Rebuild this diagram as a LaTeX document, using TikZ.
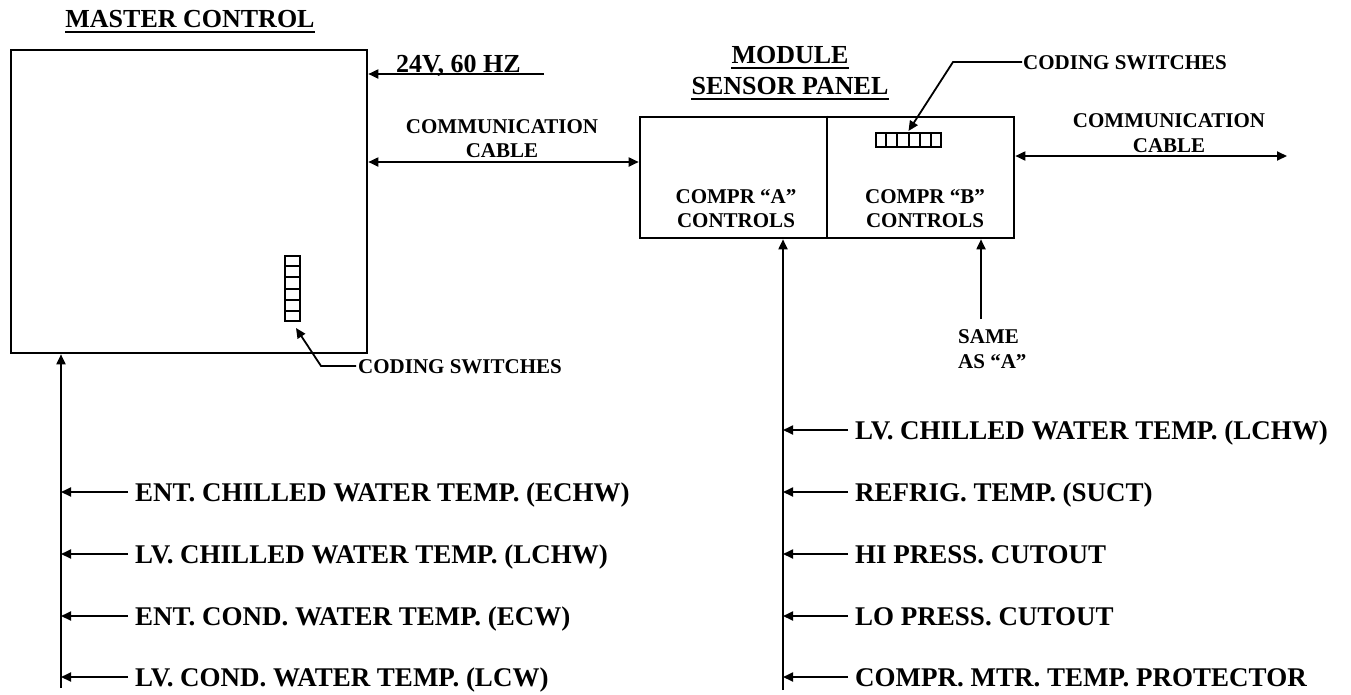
\documentclass[tikz,border=0pt]{standalone}
\usepackage{fontspec}
\setmainfont{Liberation Serif}
\usetikzlibrary{arrows.meta,calc}
\begin{document}
\begin{tikzpicture}[x=1pt,y=-1pt,
  box/.style={draw,line width=2.6pt,inner sep=0pt},
  swbox/.style={draw,line width=2pt,inner sep=0pt},
  wire/.style={line width=1.8pt},
  arr/.style={wire,-{Triangle[length=10pt,width=9pt]}},
  dbl/.style={wire,{Triangle[length=10pt,width=9pt]}-{Triangle[length=10pt,width=9pt]}},
  uline/.style={line width=2pt},
  head/.style={font=\fontsize{26}{30}\selectfont\bfseries,inner sep=0pt},
  small/.style={font=\fontsize{21}{24}\selectfont\bfseries,inner sep=0pt},
  big/.style={font=\fontsize{27}{30}\selectfont\bfseries,inner sep=0pt,anchor=base west}
]
\useasboundingbox (0,0) rectangle (1351,694);

% boxes
\node[box,minimum width=356pt,minimum height=303pt] (master) at (189,201.5) {};
\node[box,minimum width=374pt,minimum height=121pt] (module) at (827,177.5) {};
\draw[line width=2.6pt] (module.north) -- (module.south);

% titles
\node[head,anchor=base] (mct) at (190,27) {MASTER CONTROL};
\draw[uline] ([yshift=-5pt]mct.base west) -- ([yshift=-5pt]mct.base east);
\node[head,anchor=base] (mod1) at (790,63) {MODULE};
\draw[uline] ([yshift=-5pt]mod1.base west) -- ([yshift=-5pt]mod1.base east);
\node[head,anchor=base] (mod2) at (790,94) {SENSOR PANEL};
\draw[uline] ([yshift=-5pt]mod2.base west) -- ([yshift=-5pt]mod2.base east);

% power
\node[head,anchor=base west] (pw) at (396,72) {24V, 60 HZ};
\coordinate (pwe) at (544,74);
\draw[arr] (pwe) -- (pwe -| master.east);

% communication cable left
\node[small,anchor=base] (cc1a) at (502,133) {COMMUNICATION};
\node[small,anchor=base] (cc1b) at (502,157) {CABLE};
\coordinate (c1) at (0,162);
\draw[dbl] (c1 -| master.east) -- (c1 -| module.west);

% communication cable right
\node[small,anchor=base] (cc2a) at (1169,127) {COMMUNICATION};
\node[small,anchor=base] (cc2b) at (1169,152) {CABLE};
\coordinate (c2) at (1287,156);
\draw[dbl] (c2 -| module.east) -- (c2);

% compressor texts
\node[small,anchor=base] (ca1) at (736,203) {COMPR “A”};
\node[small,anchor=base] (ca2) at (736,227) {CONTROLS};
\node[small,anchor=base] (cb1) at (925,203) {COMPR “B”};
\node[small,anchor=base] (cb2) at (925,227) {CONTROLS};

% module coding switches
\node[swbox,minimum width=65pt,minimum height=14pt] (ssw) at (908.5,140) {};
\foreach \i in {1,...,5} \draw[line width=2pt] ($(ssw.north west)!\i/6!(ssw.north east)$) -- ($(ssw.south west)!\i/6!(ssw.south east)$);
\node[small,anchor=base west] (cs2) at (1023,69) {CODING SWITCHES};
\coordinate (e2) at (1022,62);
\coordinate (b2) at (953,62);
\draw[arr] (e2) -- (b2) -- ([yshift=1pt]ssw.north);

% master coding switches
\node[swbox,minimum width=15pt,minimum height=65pt] (msw) at (292.5,288.5) {};
\foreach \i in {1,...,5} \draw[line width=2pt] ($(msw.north west)!\i/6!(msw.south west)$) -- ($(msw.north east)!\i/6!(msw.south east)$);
\node[small,anchor=base west] (cs1) at (358,373) {CODING SWITCHES};
\coordinate (e1) at (356,366);
\coordinate (b1) at (321,366);
\draw[arr] (e1) -- (b1) -- ([xshift=3.5pt,yshift=-6pt]msw.south);

% same as A
\node[small,anchor=base west] (sa1) at (958,343) {SAME};
\node[small,anchor=base west] (sa2) at (958,368) {AS “A”};
\coordinate (sab) at (981,319);
\draw[arr] (sab) -- (sab |- module.south);

% vertical input buses
\coordinate (mbot) at (61,688);
\draw[arr] (mbot) -- (mbot |- master.south);
\coordinate (abot) at (783,690);
\draw[arr] (abot) -- (abot |- module.south);

% left labels
\node[big] (l1) at (135,501) {ENT. CHILLED WATER TEMP. (ECHW)};
\node[big] (l2) at (135,563) {LV. CHILLED WATER TEMP. (LCHW)};
\node[big] (l3) at (135,625) {ENT. COND. WATER TEMP. (ECW)};
\node[big] (l4) at (135,686) {LV. COND. WATER TEMP. (LCW)};
\coordinate (p1) at (128,492);
\coordinate (p2) at (128,554);
\coordinate (p3) at (128,616);
\coordinate (p4) at (128,677);
\foreach \p in {p1,p2,p3,p4} \draw[arr] (\p) -- (\p -| mbot);

% right labels
\node[big] (r1) at (855,439) {LV. CHILLED WATER TEMP. (LCHW)};
\node[big] (r2) at (855,501) {REFRIG. TEMP. (SUCT)};
\node[big] (r3) at (855,563) {HI PRESS. CUTOUT};
\node[big] (r4) at (855,625) {LO PRESS. CUTOUT};
\node[big] (r5) at (855,686) {COMPR. MTR. TEMP. PROTECTOR};
\coordinate (q1) at (848,430);
\coordinate (q2) at (848,492);
\coordinate (q3) at (848,554);
\coordinate (q4) at (848,616);
\coordinate (q5) at (848,677);
\foreach \q in {q1,q2,q3,q4,q5} \draw[arr] (\q) -- (\q -| abot);
\end{tikzpicture}
\end{document}
